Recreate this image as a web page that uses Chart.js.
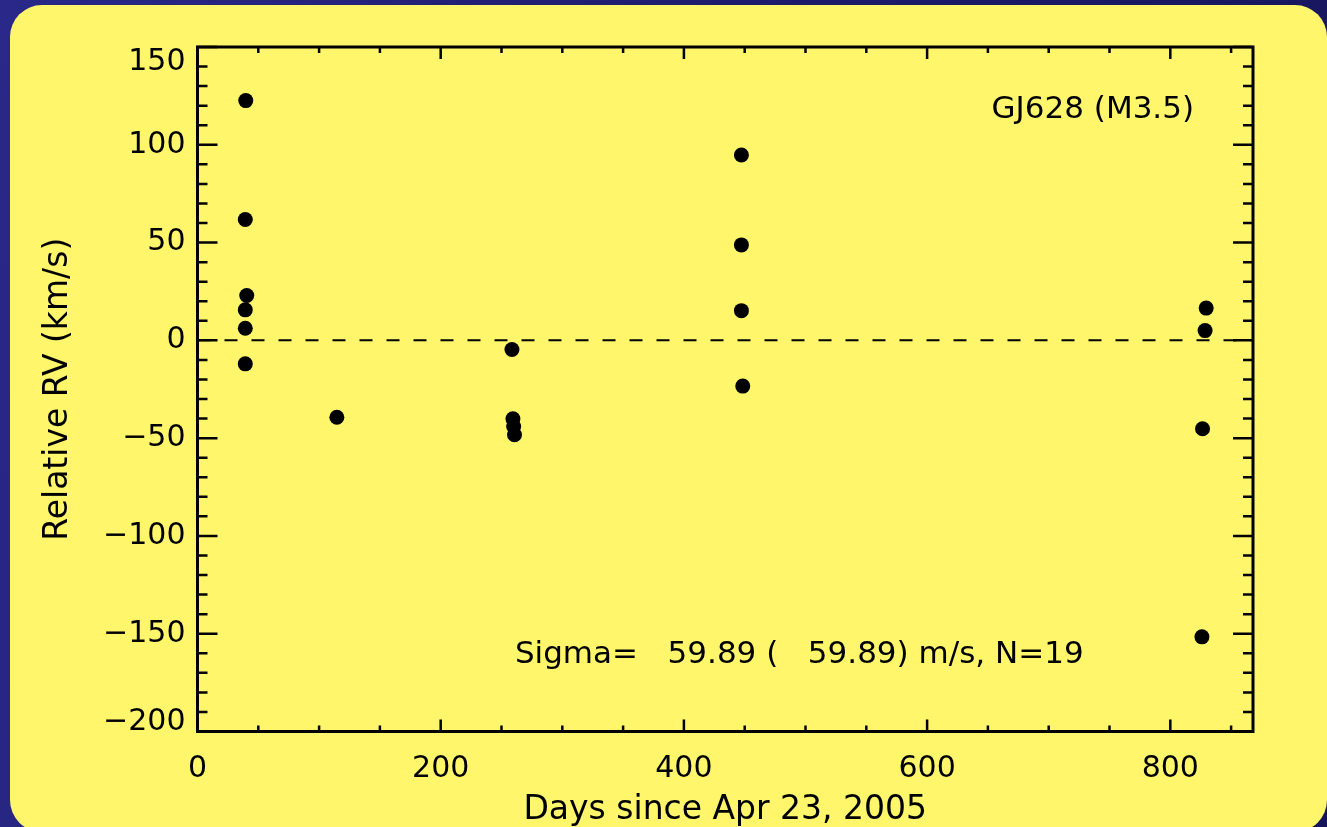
<!DOCTYPE html>
<html lang="en">
<head>
<meta charset="UTF-8" />
<title>GJ628 Relative RV</title>
<script src="https://cdn.jsdelivr.net/npm/chart.js"></script>
<style>
  html, body { margin: 0; padding: 0; }
  body { width: 1327px; height: 827px; overflow: hidden; position: relative;
         background: linear-gradient(100deg, #2a2888 0%, #1d1c6c 50%, #16155c 100%); }
  .panel { position: absolute; left: 10px; top: 5px; width: 1317px; height: 827px;
           background: #fff66c; border-radius: 32px; }
  canvas { position: absolute; left: 0; top: 0; }
</style>
</head>
<body>
<div class="panel"></div>
<canvas id="rvChart" width="1327" height="827"></canvas>
<script>
  // days since Apr 23, 2005 and relative RV
  const days = [39.7, 39.3, 40.5, 39.3, 39.3, 39.3, 114.6, 258.6, 259.4, 260.0, 260.7,
                447.3, 447.3, 447.3, 448.4, 829.5, 828.6, 826.5, 826.0];
  const rv = [122.6, 61.8, 22.9, 15.6, 6.2, -12.0, -39.3, -4.7, -40.1, -44.1, -48.3,
              94.8, 48.8, 15.2, -23.4, 16.5, 5.0, -45.2, -151.6];

  const xRange = [0, 868];
  const yRange = [-200, 150];
  const xTicks = [0, 200, 400, 600, 800];
  const yTicks = [-200, -150, -100, -50, 0, 50, 100, 150];
  const xMinor = 50, yMinor = 10;

  const starLabel = 'GJ628 (M3.5)';
  const sigmaLabel = 'Sigma=   59.89 (   59.89) m/s, N=19';

  const FONT = '"DejaVu Sans", sans-serif';

  const framePlugin = {
    id: 'frame',
    afterDatasetsDraw(chart) {
      const { ctx, chartArea: a, scales: { x, y } } = chart;
      ctx.save();
      ctx.strokeStyle = '#000';
      ctx.lineWidth = 2.5;
      ctx.beginPath();
      // x ticks, top and bottom, pointing in
      for (let i = 0; xRange[0] + i * xMinor <= xRange[1]; i++) {
        const v = xRange[0] + i * xMinor;
        const px = x.getPixelForValue(v);
        const len = xTicks.includes(v) ? 12 : 6;
        ctx.moveTo(px, a.bottom); ctx.lineTo(px, a.bottom - len);
        ctx.moveTo(px, a.top); ctx.lineTo(px, a.top + len);
      }
      // y ticks, left and right
      for (let i = 0; yRange[0] + i * yMinor <= yRange[1]; i++) {
        const v = yRange[0] + i * yMinor;
        const py = y.getPixelForValue(v);
        const len = yTicks.includes(v) ? 20 : 10;
        ctx.moveTo(a.left, py); ctx.lineTo(a.left + len, py);
        ctx.moveTo(a.right, py); ctx.lineTo(a.right - len, py);
      }
      ctx.stroke();
      ctx.lineWidth = 3;
      ctx.strokeRect(a.left, a.top, a.right - a.left, a.bottom - a.top);

      // y tick labels (end ones kept inside the frame like the original)
      ctx.fillStyle = '#000';
      ctx.font = '30px ' + FONT;
      ctx.textAlign = 'right';
      ctx.textBaseline = 'middle';
      yTicks.forEach(v => {
        let py = y.getPixelForValue(v);
        py = Math.min(Math.max(py, a.top + 15), a.bottom - 9);
        const txt = v < 0 ? '\u2212' + Math.abs(v) : String(v);
        ctx.fillText(txt, a.left - 12, py);
      });

      // annotations
      ctx.font = '31px ' + FONT;
      ctx.textAlign = 'right';
      ctx.fillText(starLabel, x.getPixelForValue(819.5), y.getPixelForValue(118));
      ctx.textAlign = 'left';
      ctx.fillText(sigmaLabel, x.getPixelForValue(261), y.getPixelForValue(-161));
      ctx.restore();
    }
  };

  const ctx = document.getElementById('rvChart').getContext('2d');
  new Chart(ctx, {
    type: 'scatter',
    data: {
      datasets: [
        {
          label: 'zero',
          data: [{ x: xRange[0], y: 0 }, { x: xRange[1], y: 0 }],
          showLine: true,
          borderColor: '#000',
          borderWidth: 2,
          borderDash: [13, 14],
          pointRadius: 0,
          order: 2
        },
        {
          label: 'RV',
          data: days.map((d, i) => ({ x: d, y: rv[i] })),
          backgroundColor: '#000',
          borderWidth: 0,
          pointRadius: 7.5,
          order: 1
        }
      ]
    },
    options: {
      responsive: false,
      animation: false,
      layout: { padding: { left: 0, top: 47, right: 74, bottom: 0 } },
      plugins: { legend: { display: false }, tooltip: { enabled: false } },
      scales: {
        x: {
          type: 'linear',
          min: xRange[0],
          max: xRange[1],
          grid: { display: false, drawTicks: false },
          border: { display: false },
          ticks: {
            stepSize: 200,
            includeBounds: false,
            color: '#000',
            padding: 20,
            font: { family: FONT, size: 30 }
          },
          title: {
            display: true,
            text: 'Days since Apr 23, 2005',
            color: '#000',
            font: { family: FONT, size: 33, lineHeight: 1 },
            padding: 0
          },
          afterFit(scale) { scale.height = 95.5; }
        },
        y: {
          type: 'linear',
          min: yRange[0],
          max: yRange[1],
          grid: { display: false, drawTicks: false },
          border: { display: false },
          ticks: { display: false, stepSize: 50 },
          title: {
            display: true,
            text: 'Relative RV (km/s)',
            color: '#000',
            font: { family: FONT, size: 33, lineHeight: 1 },
            padding: { top: 42, bottom: 42 }
          },
          afterFit(scale) { scale.width = 197.5; }
        }
      }
    },
    plugins: [framePlugin]
  });
</script>
</body>
</html>
